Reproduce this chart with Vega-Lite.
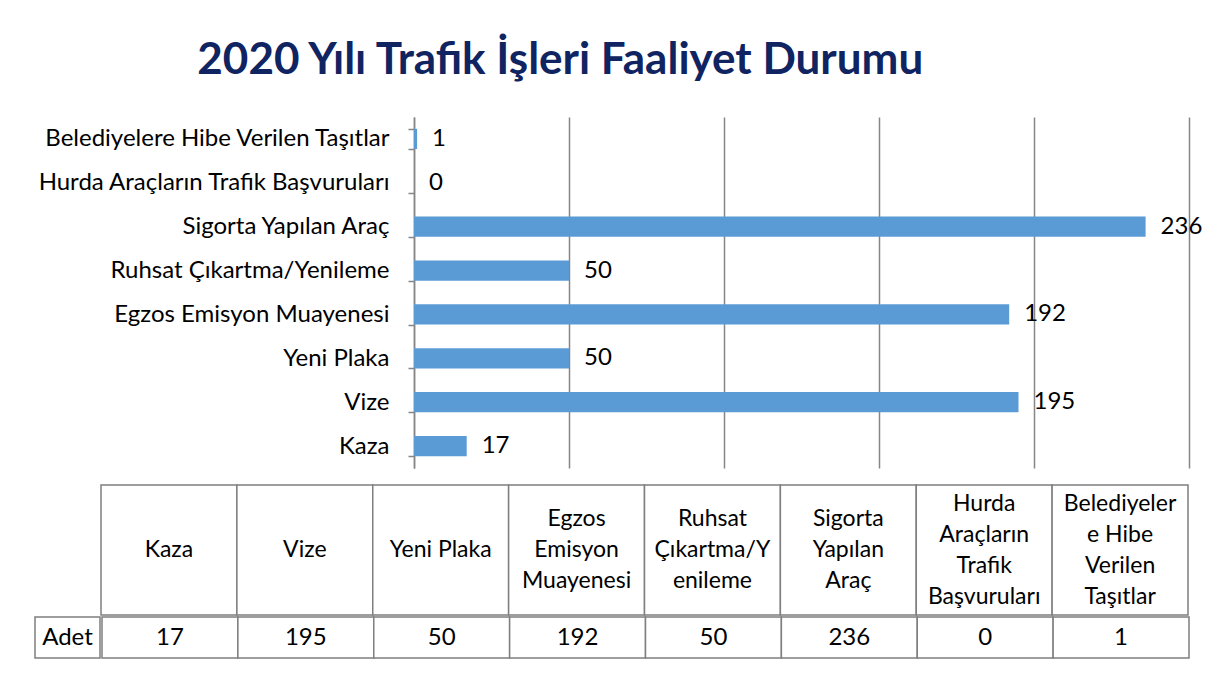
{
  "$schema": "https://vega.github.io/schema/vega-lite/v6.json",
  "background": "white",
  "padding": {"left": 34, "top": 39, "right": 5, "bottom": 5},
  "title": {
    "text": "2020 Yılı Trafik İşleri Faaliyet Durumu",
    "font": "Lato",
    "fontSize": 44,
    "fontWeight": "bold",
    "color": "#0F2461",
    "anchor": "middle",
    "dx": -58,
    "offset": 22
  },
  "datasets": {
    "faaliyet": [
      {"kalem": "Kaza", "baslik": "Kaza", "adet": 17},
      {"kalem": "Vize", "baslik": "Vize", "adet": 195},
      {"kalem": "Yeni Plaka", "baslik": "Yeni Plaka", "adet": 50},
      {"kalem": "Egzos Emisyon Muayenesi", "baslik": "Egzos\nEmisyon\nMuayenesi", "adet": 192},
      {"kalem": "Ruhsat Çıkartma/Yenileme", "baslik": "Ruhsat\nÇıkartma/Y\nenileme", "adet": 50},
      {"kalem": "Sigorta Yapılan Araç", "baslik": "Sigorta\nYapılan\nAraç", "adet": 236},
      {"kalem": "Hurda Araçların Trafik Başvuruları", "baslik": "Hurda\nAraçların\nTrafik\nBaşvuruları", "adet": 0},
      {"kalem": "Belediyelere Hibe Verilen Taşıtlar", "baslik": "Belediyeler\ne Hibe\nVerilen\nTaşıtlar", "adet": 1}
    ],
    "satir": [{"etiket": "Adet"}]
  },
  "spacing": 16,
  "vconcat": [
    {
      "spacing": 0,
      "hconcat": [
        {
          "width": 1,
          "height": 351,
          "data": {"name": "satir"},
          "mark": {"type": "text", "text": ""}
        },
        {
          "width": 775,
          "height": 351,
          "data": {"name": "faaliyet"},
          "encoding": {
            "y": {
              "field": "kalem",
              "type": "nominal",
              "sort": ["Belediyelere Hibe Verilen Taşıtlar", "Hurda Araçların Trafik Başvuruları", "Sigorta Yapılan Araç", "Ruhsat Çıkartma/Yenileme", "Egzos Emisyon Muayenesi", "Yeni Plaka", "Vize", "Kaza"],
              "scale": {"paddingInner": 0.54, "paddingOuter": 0.27},
              "axis": {
                "title": null,
                "tickBand": "extent",
                "tickSize": 6,
                "tickColor": "#868686",
                "tickWidth": 1.5,
                "domainColor": "#868686",
                "domainWidth": 1.5,
                "labelFont": "Lato",
                "labelFontSize": 24,
                "labelColor": "#000000",
                "labelPadding": 19,
                "labelLimit": 0,
                "grid": false
              }
            },
            "x": {
              "field": "adet",
              "type": "quantitative",
              "scale": {"domain": [0, 250]},
              "axis": {
                "title": null,
                "labels": false,
                "ticks": false,
                "domain": false,
                "grid": true,
                "values": [0, 50, 100, 150, 200, 250],
                "gridColor": "#868686",
                "gridWidth": 1.5
              }
            }
          },
          "layer": [
            {"mark": {"type": "bar", "color": "#5B9BD5"}},
            {
              "mark": {"type": "text", "align": "left", "baseline": "middle", "dx": 15, "font": "Lato", "fontSize": 24, "color": "#000000"},
              "encoding": {"text": {"field": "adet", "type": "quantitative"}}
            }
          ]
        }
      ]
    },
    {
      "spacing": 0,
      "vconcat": [
        {
          "spacing": 0,
          "hconcat": [
            {
              "width": 65,
              "height": 130,
              "data": {"name": "satir"},
              "mark": {"type": "text", "text": ""}
            },
            {
              "width": 1087,
              "height": 130,
              "data": {"name": "faaliyet"},
              "encoding": {
                "x": {
                  "field": "kalem",
                  "type": "nominal",
                  "sort": ["Kaza", "Vize", "Yeni Plaka", "Egzos Emisyon Muayenesi", "Ruhsat Çıkartma/Yenileme", "Sigorta Yapılan Araç", "Hurda Araçların Trafik Başvuruları", "Belediyelere Hibe Verilen Taşıtlar"],
                  "scale": {"paddingInner": 0, "paddingOuter": 0},
                  "axis": null
                }
              },
              "layer": [
                {"mark": {"type": "rect", "fill": "white", "stroke": "#7F7F7F", "strokeWidth": 1.5}},
                {
                  "mark": {
                    "type": "text",
                    "lineBreak": "\n",
                    "lineHeight": 31,
                    "font": "Lato",
                    "fontSize": 23,
                    "color": "#000000",
                    "baseline": "middle",
                    "dy": {"expr": "-15.5 * (length(split(datum.baslik, '\\n')) - 1)"}
                  },
                  "encoding": {"text": {"field": "baslik", "type": "nominal"}}
                }
              ]
            }
          ]
        },
        {
          "spacing": 0,
          "hconcat": [
            {
              "width": 65,
              "height": 41,
              "data": {"name": "satir"},
              "layer": [
                {"mark": {"type": "rect", "fill": "white", "stroke": "#7F7F7F", "strokeWidth": 1.5}},
                {
                  "mark": {"type": "text", "font": "Lato", "fontSize": 24, "color": "#000000", "baseline": "middle"},
                  "encoding": {"text": {"field": "etiket", "type": "nominal"}}
                }
              ]
            },
            {
              "width": 1087,
              "height": 41,
              "data": {"name": "faaliyet"},
              "encoding": {
                "x": {
                  "field": "kalem",
                  "type": "nominal",
                  "sort": ["Kaza", "Vize", "Yeni Plaka", "Egzos Emisyon Muayenesi", "Ruhsat Çıkartma/Yenileme", "Sigorta Yapılan Araç", "Hurda Araçların Trafik Başvuruları", "Belediyelere Hibe Verilen Taşıtlar"],
                  "scale": {"paddingInner": 0, "paddingOuter": 0},
                  "axis": null
                }
              },
              "layer": [
                {"mark": {"type": "rect", "fill": "white", "stroke": "#7F7F7F", "strokeWidth": 1.5}},
                {
                  "mark": {"type": "text", "font": "Lato", "fontSize": 24, "color": "#000000", "baseline": "middle"},
                  "encoding": {"text": {"field": "adet", "type": "quantitative"}}
                }
              ]
            }
          ]
        }
      ]
    }
  ],
  "config": {
    "view": {"stroke": null}
  }
}
